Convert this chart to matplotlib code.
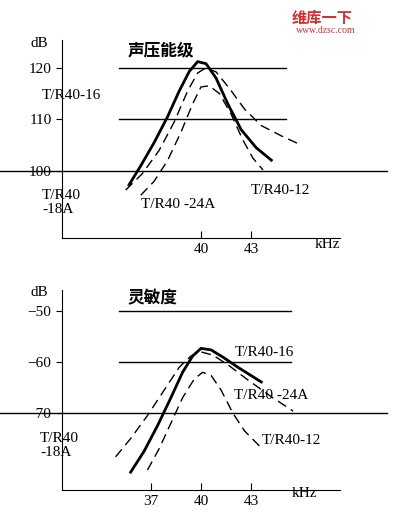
import numpy as np
import matplotlib
matplotlib.use("Agg")
import matplotlib.pyplot as plt

plt.rcParams['font.family'] = ['Liberation Serif', 'Noto Sans CJK SC']

# top panel: sound pressure level (dB) vs frequency (kHz)
spl_ref_levels = [120, 110, 100]
spl_16_f = [35.7, 36.4, 37.2, 38.0, 38.7, 39.3, 39.8, 40.3, 40.9, 41.6, 42.4, 43.3, 44.2]
spl_16_db = [97.3, 101.0, 105.5, 110.5, 115.5, 119.3, 121.2, 120.8, 118.0, 113.0, 108.0, 104.5, 102.1]
spl_24a_f = [35.5, 36.5, 37.5, 38.4, 39.2, 39.8, 40.3, 40.9, 41.7, 42.6, 43.6, 44.8, 46.0]
spl_24a_db = [96.3, 99.5, 104.0, 109.5, 115.5, 119.0, 120.0, 119.2, 116.0, 112.0, 108.8, 106.8, 105.0]
spl_12_f = [36.4, 37.2, 38.0, 38.8, 39.5, 40.0, 40.5, 41.1, 41.8, 42.5, 43.1, 43.7]
spl_12_db = [95.3, 98.0, 102.0, 107.5, 113.0, 116.3, 116.5, 115.0, 111.0, 106.0, 102.5, 100.2]
spl_ticks = [40, 43]

# bottom panel: sensitivity (dB) vs frequency (kHz)
sens_ref_levels = [-50, -60, -70]
sens_16_f = [35.8, 36.6, 37.4, 38.2, 38.9, 39.5, 40.0, 40.6, 41.3, 42.2, 43.6]
sens_16_db = [-81.6, -77.5, -72.5, -67.0, -62.0, -58.8, -57.3, -57.6, -59.0, -61.0, -63.9]
sens_24a_f = [34.9, 35.8, 36.8, 37.8, 38.7, 39.4, 40.0, 40.7, 41.6, 42.8, 44.2, 45.5]
sens_24a_db = [-78.6, -75.0, -70.5, -65.5, -61.0, -58.8, -58.0, -58.6, -60.5, -63.5, -66.8, -69.6]
sens_12_f = [36.8, 37.5, 38.2, 38.9, 39.6, 40.1, 40.6, 41.2, 41.9, 42.6, 43.5]
sens_12_db = [-81.2, -77.0, -72.0, -67.0, -63.3, -62.0, -62.6, -65.5, -70.0, -73.5, -76.5]
sens_ticks = [37, 40, 43]

fig = plt.figure(figsize=(4, 5.12), dpi=100)


def setup(ax, ylim, yticks, xticks):
    ax.set_xlim(31.7, 48.3)
    ax.set_ylim(*ylim)
    for s in ['top', 'right']:
        ax.spines[s].set_visible(False)
    ax.set_yticks(yticks)
    ax.set_xticks(xticks)
    ax.tick_params(axis='y', direction='out', length=4, labelsize=11)
    ax.tick_params(axis='x', direction='in', length=5, labelsize=11)


ax1 = fig.add_axes([0.155, 0.535, 0.695, 0.387])
setup(ax1, (87, 125.4), spl_ref_levels, spl_ticks)
for lv in spl_ref_levels[:2]:
    ax1.plot([35.1, 45.1], [lv, lv], color='k', lw=1)
ax1.plot([28.0, 51.1], [100, 100], color='k', lw=1, clip_on=False)
ax1.plot(spl_16_f, spl_16_db, color='k', lw=2)
ax1.plot(spl_24a_f, spl_24a_db, color='k', lw=1, ls=(0, (7, 4)))
ax1.plot(spl_12_f, spl_12_db, color='k', lw=1, ls=(0, (7, 4)))
ax1.text(30.5, 114.0, 'T/R40-16', fontsize=11)
ax1.text(30.5, 91.8, 'T/R40\n-18A', fontsize=11, linespacing=1.1)
ax1.text(36.4, 92.8, 'T/R40 -24A', fontsize=11)
ax1.text(43.0, 95.5, 'T/R40-12', fontsize=11)
ax1.text(29.8, 124.0, 'dB', fontsize=11)
ax1.text(35.6, 122.5, '声压能级', fontsize=12, fontweight='bold')
ax1.text(46.8, 85.0, 'kHz', fontsize=11)

ax2 = fig.add_axes([0.155, 0.043, 0.695, 0.39])
setup(ax2, (-85.1, -45.9), sens_ref_levels, sens_ticks)
for lv in sens_ref_levels[:2]:
    ax2.plot([35.1, 45.4], [lv, lv], color='k', lw=1)
ax2.plot([28.0, 51.1], [-70, -70], color='k', lw=1, clip_on=False)
ax2.plot(sens_16_f, sens_16_db, color='k', lw=2)
ax2.plot(sens_24a_f, sens_24a_db, color='k', lw=1, ls=(0, (7, 4)))
ax2.plot(sens_12_f, sens_12_db, color='k', lw=1, ls=(0, (7, 4)))
ax2.text(42.0, -58.7, 'T/R40-16', fontsize=11)
ax2.text(42.0, -67.3, 'T/R40 -24A', fontsize=11)
ax2.text(30.4, -78.5, 'T/R40\n-18A', fontsize=11, linespacing=1.1)
ax2.text(43.6, -76.0, 'T/R40-12', fontsize=11)
ax2.text(29.8, -47.0, 'dB', fontsize=11)
ax2.text(35.6, -48.5, '灵敏度', fontsize=12, fontweight='bold')
ax2.text(45.4, -86.5, 'kHz', fontsize=11)

fig.text(0.73, 0.955, '维库一下', color='#d03030', fontsize=11, fontweight='bold',
         family=['Noto Sans CJK SC'])
fig.text(0.74, 0.935, 'www.dzsc.com', color='#d03030', fontsize=7)

fig.savefig('out.png', dpi=100, facecolor='white')
